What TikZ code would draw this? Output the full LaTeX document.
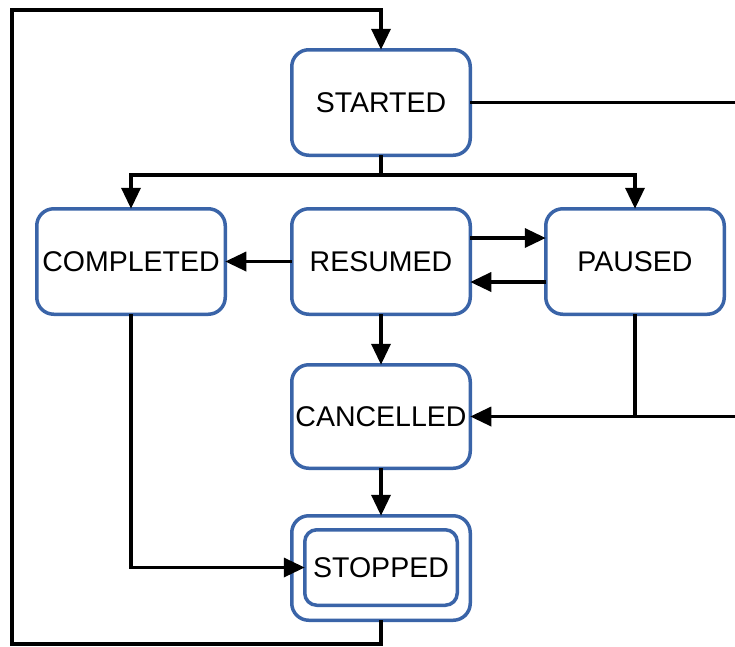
\documentclass[tikz,border=0pt]{standalone}
\usepackage{fontspec}
\setmainfont{Liberation Sans}
\usetikzlibrary{arrows.meta}
\definecolor{boxblue}{HTML}{3A64A8}
\begin{document}
\begin{tikzpicture}[x=1pt,y=-1pt,
  state/.style={draw=boxblue, line width=3.5pt, rounded corners=17pt,
    minimum width=178.5pt, minimum height=105.5pt, inner sep=0pt, outer sep=0pt,
    fill=white, font=\fontsize{28.5}{32}\selectfont},
  wire/.style={line width=3.5pt, line join=miter},
  link/.style={wire, -{Triangle[length=21pt,width=19pt]}}]
  \useasboundingbox (0,0) rectangle (735,646);

  % states
  \node[state] (started) at (381,102.5) {STARTED};
  \node[state, minimum width=188.5pt] (completed) at (131,261.5) {COMPLETED};
  \node[state] (resumed) at (381,261.5) {RESUMED};
  \node[state] (paused) at (635,261.5) {PAUSED};
  \node[state, minimum height=103.5pt] (cancelled) at (381,416.5) {CANCELLED};
  \node[state, minimum height=104.5pt] (stopped) at (381,568) {};
  \node[state, minimum width=152.5pt, minimum height=75.5pt, rounded corners=12pt]
    (stoppedin) at (381,567.5) {STOPPED};

  % free ends at the right edge and the outer loop corners
  \coordinate (outright) at (735,102.5);
  \coordinate (inright) at (735,416.5);
  \coordinate (fork) at (381,175);
  \coordinate (loopbl) at (12,644);
  \coordinate (looptl) at (12,10);

  % transitions
  \draw[wire] (started.east) -- (outright);
  \draw[wire] (started.south) -- (fork);
  \draw[link] (fork) -| (completed.north);
  \draw[link] (fork) -| (paused.north);
  \draw[link] (resumed.west) -- (completed.east);
  \draw[link] ([yshift=23.5pt]resumed.east) -- ([yshift=23.5pt]paused.west);
  \draw[link] ([yshift=-20.5pt]paused.west) -- ([yshift=-20.5pt]resumed.east);
  \draw[link] (resumed.south) -- (cancelled.north);
  \draw[wire] (paused.south) -- (paused.south |- cancelled.east);
  \draw[link] (inright) -- (cancelled.east);
  \draw[link] (cancelled.south) -- (stopped.north);
  \draw[link] (completed.south) |- (stoppedin.west);
  \draw[link] (stopped.south) |- (loopbl) -- (looptl) -| (started.north);
\end{tikzpicture}
\end{document}
